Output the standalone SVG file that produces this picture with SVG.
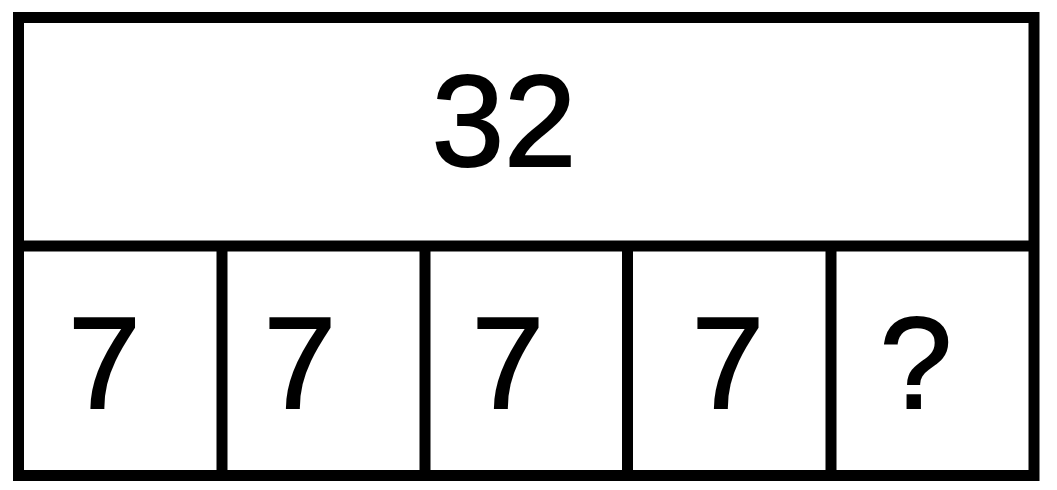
<svg xmlns="http://www.w3.org/2000/svg" width="1057" height="490" viewBox="0 0 1057 490">
<style>
.box{fill:#fff;stroke:#000;stroke-width:11}
.ln{stroke:#000;stroke-width:11;fill:none}
.t{font-family:"Liberation Sans",Arial,sans-serif;font-size:130px;fill:#000;stroke:#000;stroke-width:2;text-anchor:middle}
</style>
<rect x="0" y="0" width="1057" height="490" fill="#fff"/>
<g id="frame">
<rect class="box" x="18.5" y="17.5" width="1015.5" height="458"/>
</g>
<g id="connectors">
<line class="ln" x1="18.5" y1="246" x2="1034" y2="246"/>
<line class="ln" x1="222" y1="246" x2="222" y2="475.5"/>
<line class="ln" x1="425" y1="246" x2="425" y2="475.5"/>
<line class="ln" x1="627.5" y1="246" x2="627.5" y2="475.5"/>
<line class="ln" x1="831" y1="246" x2="831" y2="475.5"/>
</g>
<g id="total"><text class="t" x="504" y="166">32</text></g>
<g id="cell1"><text class="t" x="104.5" y="408">7</text></g>
<g id="cell2"><text class="t" x="300" y="408">7</text></g>
<g id="cell3"><text class="t" x="508" y="408">7</text></g>
<g id="cell4"><text class="t" x="728" y="408">7</text></g>
<g id="cell5"><text class="t" x="916" y="408">?</text></g>
</svg>
